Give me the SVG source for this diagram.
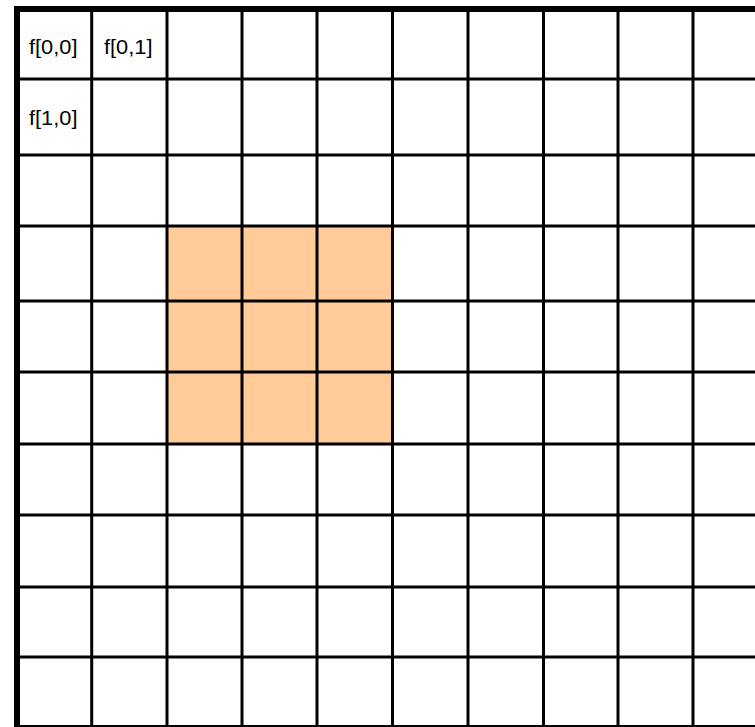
<svg xmlns="http://www.w3.org/2000/svg" width="755" height="727" viewBox="0 0 755 727">
<style>
.g{stroke:#000;stroke-width:3;fill:none}
.b{stroke:#000;stroke-width:6;fill:none}
.t{font-family:"Liberation Sans",Arial,sans-serif;font-size:20.5px;fill:#000}
</style>
<rect x="0" y="0" width="755" height="727" fill="#fff"/>
<g id="highlight">
<rect x="167" y="226" width="225.5" height="218" fill="#FFCC99"/>
</g>
<g id="grid">
<path class="g" d="M91.7 9V727M167 9V727M242 9V727M317 9V727M392.5 9V727M468 9V727M543.5 9V727M618 9V727M693 9V727"/>
<path class="g" d="M17 79H755M17 155H755M17 226H755M17 301H755M17 372H755M17 444H755M17 515H755M17 587H755M17 657H755M17 726.5H755"/>
<path class="b" d="M17 727V9M14 9H755"/>
</g>
<g id="cell-f00"><text class="t" x="29" y="53.5" textLength="48.5" lengthAdjust="spacingAndGlyphs">f[0,0]</text></g>
<g id="cell-f01"><text class="t" x="104" y="53.5" textLength="48.5" lengthAdjust="spacingAndGlyphs">f[0,1]</text></g>
<g id="cell-f10"><text class="t" x="29" y="124.5" textLength="48.5" lengthAdjust="spacingAndGlyphs">f[1,0]</text></g>
</svg>
